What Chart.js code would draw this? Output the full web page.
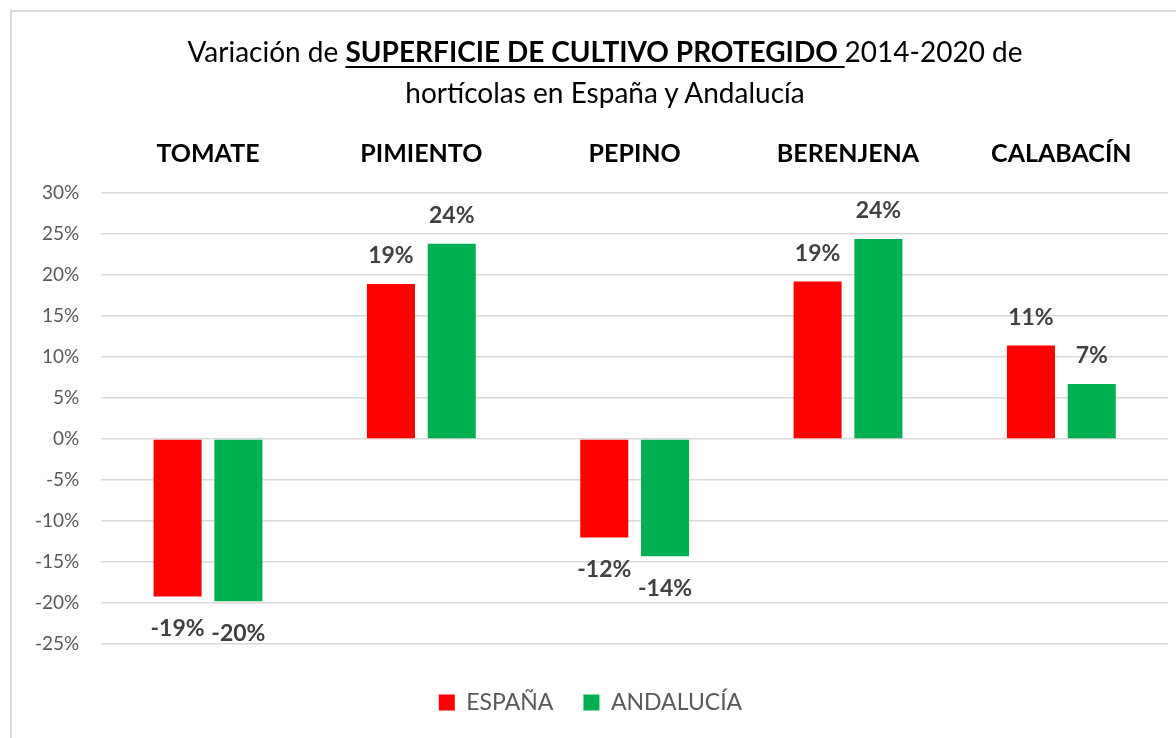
<!DOCTYPE html>
<html lang="es">
<head>
    <meta charset="UTF-8">
    <title>Superficie de cultivo protegido</title>
    <script src="https://cdn.jsdelivr.net/npm/chart.js"></script>
    <style>
        body {
            margin: 0;
            width: 1176px;
            height: 738px;
            overflow: hidden;
            background: #fff;
            font-family: Lato, "Open Sans", sans-serif;
            position: relative;
        }
        #frame {
            position: absolute;
            left: 10px;
            top: 10px;
            width: 1200px;
            height: 760px;
            border: 2px solid #d9d9d9;
        }
        #title {
            position: absolute;
            left: 0;
            top: 31px;
            width: 1210px;
            text-align: center;
            font-size: 28px;
            line-height: 41px;
            color: #000;
        }
        #title b {
            text-decoration: underline;
            text-underline-offset: 4px;
        }
        #wrap {
            position: absolute;
            left: 0;
            top: 0;
            width: 1176px;
            height: 738px;
        }
    </style>
</head>
<body>
    <div id="frame"></div>
    <div id="wrap"><canvas id="chart" width="1176" height="738"></canvas></div>
    <div id="title">Variación de <b>SUPERFICIE DE CULTIVO PROTEGIDO </b>2014-2020 de<br>hortícolas en España y Andalucía</div>

    <script>
        const cultivos = ['TOMATE', 'PIMIENTO', 'PEPINO', 'BERENJENA', 'CALABACÍN'];
        const espana = [-19.2, 18.9, -12.0, 19.2, 11.4];
        const andalucia = [-19.8, 23.8, -14.3, 24.4, 6.7];
        const yMin = -25;
        const yMax = 30;
        const yStep = 5;

        // etiquetas de valor encima / debajo de cada barra
        const valueLabels = {
            id: 'valueLabels',
            afterDatasetsDraw(chart) {
                const ctx = chart.ctx;
                ctx.save();
                ctx.font = 'bold 23px Lato, sans-serif';
                ctx.fillStyle = '#404040';
                ctx.textAlign = 'center';
                ctx.textBaseline = 'middle';
                chart.data.datasets.forEach((ds, i) => {
                    chart.getDatasetMeta(i).data.forEach((bar, j) => {
                        const v = ds.data[j];
                        const y = v >= 0 ? bar.y - 28 : bar.y + 32;
                        ctx.fillText(Math.round(v) + '%', bar.x, y);
                    });
                });
                ctx.restore();
            }
        };

        const ctx = document.getElementById('chart').getContext('2d');
        new Chart(ctx, {
            type: 'bar',
            data: {
                labels: cultivos,
                datasets: [{
                    label: 'ESPAÑA',
                    data: espana,
                    backgroundColor: '#ff0000',
                    categoryPercentage: 0.57,
                    barPercentage: 0.79
                }, {
                    label: 'ANDALUCÍA',
                    data: andalucia,
                    backgroundColor: '#00b050',
                    categoryPercentage: 0.57,
                    barPercentage: 0.79
                }]
            },
            options: {
                responsive: false,
                animation: false,
                layout: {
                    padding: { left: 13, right: 8, top: 123, bottom: 14 }
                },
                plugins: {
                    title: { display: false },
                    tooltip: { enabled: false },
                    legend: {
                        position: 'bottom',
                        labels: {
                            boxWidth: 16,
                            boxHeight: 16,
                            padding: 30,
                            color: '#595959',
                            font: { family: 'Lato', size: 23 }
                        }
                    }
                },
                scales: {
                    x: {
                        position: 'bottom',
                        ticks: { display: false },
                        grid: { display: false },
                        border: { display: false },
                        afterFit(scale) { scale.height = 17; }
                    },
                    x2: {
                        position: 'top',
                        labels: cultivos,
                        ticks: {
                            color: '#000',
                            padding: 16,
                            font: { family: 'Lato', size: 25, weight: 'bold' }
                        },
                        grid: { display: false },
                        border: { display: false }
                    },
                    y: {
                        min: yMin,
                        max: yMax,
                        ticks: {
                            stepSize: yStep,
                            padding: 22,
                            color: '#595959',
                            font: { family: 'Lato', size: 19 },
                            callback: v => v + '%'
                        },
                        grid: { color: '#d9d9d9', lineWidth: 1.5, drawTicks: false },
                        border: { display: false }
                    }
                }
            },
            plugins: [valueLabels]
        });
    </script>
</body>
</html>
